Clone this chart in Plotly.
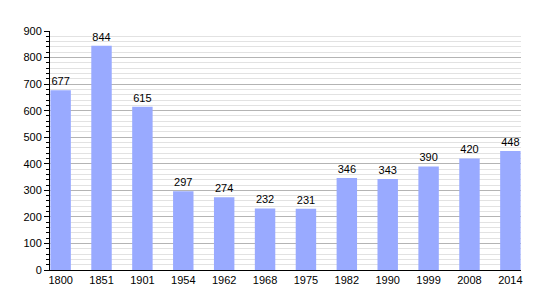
import plotly.graph_objects as go

years = ["1800", "1851", "1901", "1954", "1962", "1968", "1975", "1982", "1990", "1999", "2008", "2014"]
population = [677, 844, 615, 297, 274, 232, 231, 346, 343, 390, 420, 448]

fig = go.Figure(go.Bar(
    x=years, y=population,
    marker=dict(color="#99aaff", line=dict(width=0)),
    width=0.5,
    text=[str(v) for v in population],
    textposition="outside",
    textfont=dict(size=11, color="black", family="Liberation Sans, Arial"),
    cliponaxis=False,
))

fig.update_layout(
    width=550, height=300,
    margin=dict(l=50, r=29, t=31, b=30),
    paper_bgcolor="white", plot_bgcolor="white",
    font=dict(family="Liberation Sans, Arial", size=11, color="black"),
    showlegend=False,
)
fig.update_xaxes(
    type="category",
    range=[-0.26, 11.26],
    showline=True, linecolor="black", linewidth=1,
    ticks="", showgrid=False,
    tickfont=dict(size=11),
)
fig.update_yaxes(
    range=[0, 900], dtick=100,
    showline=True, linecolor="black", linewidth=1,
    ticks="outside", ticklen=5, tickcolor="black",
    showgrid=True, gridcolor="#b4b4b4", gridwidth=1,
    zeroline=False,
    minor=dict(dtick=20, showgrid=True, gridcolor="#e2e2e2", ticks="outside", ticklen=3, tickcolor="black"),
    tickfont=dict(size=11),
)

fig.write_html("out.html")
